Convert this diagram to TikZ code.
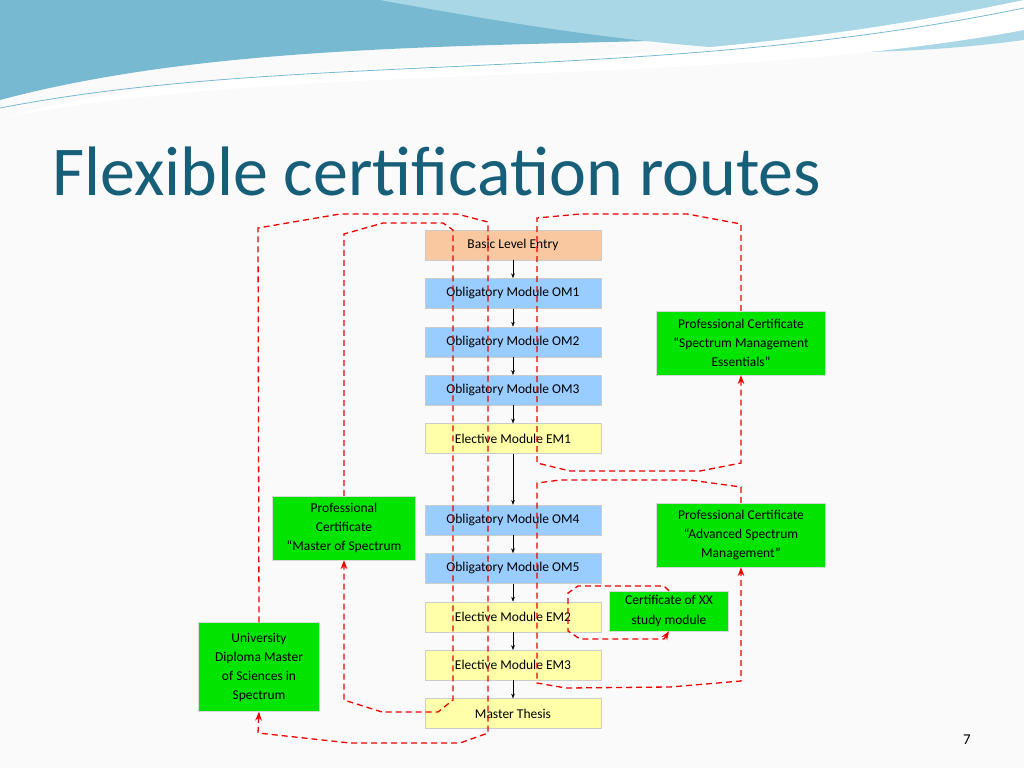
\documentclass[tikz,border=0pt]{standalone}
\usepackage{fontspec}
\setmainfont{Carlito}
\usetikzlibrary{positioning}
\usetikzlibrary{arrows.meta}
\definecolor{titleteal}{RGB}{23,94,120}
\definecolor{modblue}{RGB}{153,204,255}
\definecolor{modorange}{RGB}{250,200,160}
\definecolor{modyellow}{RGB}{255,255,170}
\definecolor{certgreen}{RGB}{0,228,0}
\definecolor{routered}{RGB}{235,0,0}
\definecolor{wavea}{RGB}{120,185,210}
\definecolor{waveb}{RGB}{170,215,230}
\begin{document}
\begin{tikzpicture}[
            x = 1pt, y = -1pt,
            > = Stealth, % arrow head style
            node distance = 18pt, % gap between modules
            module/.style = {draw = gray!40, minimum width = 176pt, minimum height = 30pt, inner sep = 0pt, font = \fontsize{13.5}{15}\selectfont},
            cert/.style = {draw = gray!30, fill = certgreen, align = center, inner sep = 1pt, font = \fontsize{13.5}{19}\selectfont},
            route/.style = {draw = routered, line width = 1.3pt, dash pattern = on 6pt off 4pt, ->}
        ]
% background and header
  \fill[gray!4] (0,0) rectangle (1024,768);
  \useasboundingbox (0,0) rectangle (1024,768);
  \fill[wavea] (0,0) -- (1024,0) -- (1024,18) .. controls (700,60) and (300,20) .. (0,100) -- cycle;
  \fill[waveb] (380,0) -- (1024,0) -- (1024,40) .. controls (800,70) and (600,40) .. (380,0) -- cycle;
  \fill[white] (0,118) .. controls (300,40) and (600,90) .. (1024,0) -- (1024,30) .. controls (700,90) and (300,60) .. (0,118) -- cycle;
  \draw[wavea, thick] (0,108) .. controls (300,50) and (650,85) .. (1024,8);
  \node[anchor = base west, text = titleteal, font = \fontsize{70}{78}\selectfont, inner sep = 0pt] (title) at (52,195) {Flexible certification routes};
  \node[font = \fontsize{15}{17}\selectfont] (page) at (967,740) {7};

% modules
  \node[module, fill = modorange] (BLE) at (513,245) {Basic Level Entry};
  \node[module, fill = modblue] (OM1) [below = of BLE] {Obligatory Module OM1};
  \node[module, fill = modblue] (OM2) [below = of OM1] {Obligatory Module OM2};
  \node[module, fill = modblue] (OM3) [below = of OM2] {Obligatory Module OM3};
  \node[module, fill = modyellow] (EM1) [below = of OM3] {Elective Module EM1};
  \node[module, fill = modblue] (OM4) [below = 51pt of EM1] {Obligatory Module OM4};
  \node[module, fill = modblue] (OM5) [below = of OM4] {Obligatory Module OM5};
  \node[module, fill = modyellow] (EM2) [below = of OM5] {Elective Module EM2};
  \node[module, fill = modyellow] (EM3) [below = of EM2] {Elective Module EM3};
  \node[module, fill = modyellow] (MT) [below = of EM3] {Master Thesis};

  \foreach \a/\b in {BLE/OM1, OM1/OM2, OM2/OM3, OM3/EM1, EM1/OM4, OM4/OM5, OM5/EM2, EM2/EM3, EM3/MT}
    \draw[->, thin] (\a) -- (\b);

% certificates
  \node[cert, minimum width = 169pt, minimum height = 64pt] (PCE) at (741,343) {Professional Certificate\\``Spectrum Management\\Essentials''};
  \node[cert, minimum width = 169pt, minimum height = 64pt] (PCA) at (741,535) {Professional Certificate\\``Advanced Spectrum\\Management''};
  \node[cert, minimum width = 143pt, minimum height = 64pt] (PCM) at (344,528) {Professional\\Certificate\\``Master of Spectrum};
  \node[cert, minimum width = 121pt, minimum height = 89pt] (UDM) at (259,667) {University\\Diploma Master\\of Sciences in\\Spectrum};
  \node[cert, minimum width = 119pt, minimum height = 40pt, font = \fontsize{13.5}{20}\selectfont] (CXX) at (669,611) {Certificate of XX\\study module};

% routes
  \draw[route] (UDM.north) -- (258,228) -- (340,214) -- (457,214) -- (488,222) -- (488,733) -- (460,743) -- (350,743) -- (258,733) -- (UDM.south);
  \draw[route] (PCM.north) -- (344,234) -- (383,223) -- (443,223) -- (453,230) -- (453,700) -- (438,712) -- (382,712) -- (344,700) -- (PCM.south);
  \draw[route] (PCE.north) -- (741,224) -- (687,214) -- (580,214) -- (537,218) -- (537,463) -- (570,471) -- (700,471) -- (741,463) -- (PCE.south);
  \draw[route] (PCA.north) -- (741,487) -- (690,480) -- (560,480) -- (537,483) -- (537,683) -- (566,688) -- (670,687) -- (741,681) -- (PCA.south);
  \draw[route] (CXX.north) -- (664,586) -- (578,586) -- (568,593) -- (568,631) -- (580,639) -- (664,639) -- (CXX.south);
\end{tikzpicture}
\end{document}
